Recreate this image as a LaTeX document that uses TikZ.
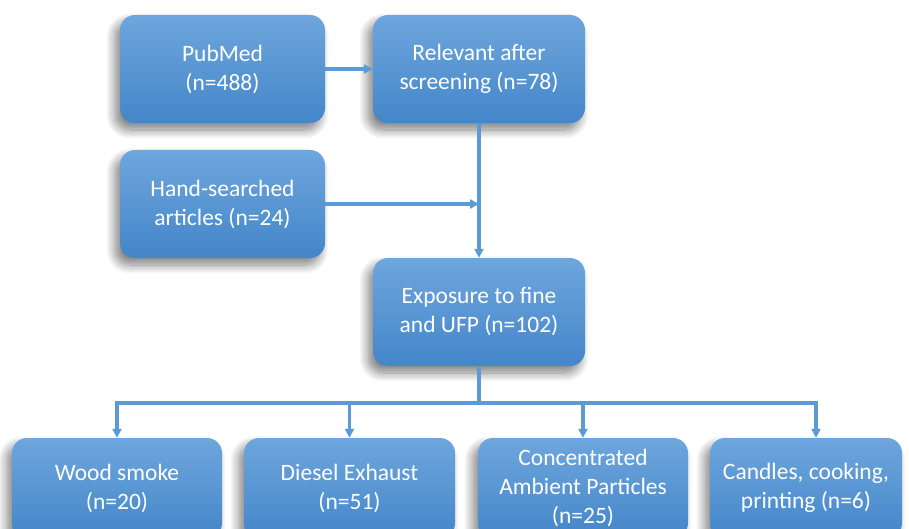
\documentclass[tikz,border=0pt]{standalone}
\usepackage{fontspec}
\setmainfont{Carlito}
\usepackage{xcolor}
\usepackage{tikz}
\usetikzlibrary{
  positioning,
  arrows.meta,
  calc,
  shadows.blur
}
\definecolor{boxtop}{RGB}{110,166,221}
\definecolor{boxbot}{RGB}{68,134,201}
\definecolor{linecol}{RGB}{91,155,213}

\begin{document}
\begin{tikzpicture}[
    x=1pt, y=-1pt,
    >={Triangle[length=9pt,width=9pt]},
    every node/.style={font=\fontsize{23.5}{29}\selectfont, text=white},
    flowbox/.style={rectangle, rounded corners=15pt, top color=boxtop, bottom color=boxbot,
        draw=none, align=center, inner sep=0pt,
        blur shadow={shadow xshift=-5pt, shadow yshift=-7pt, shadow blur steps=12, shadow blur radius=9pt, shadow opacity=50}},
    link/.style={draw=linecol, line width=3.2pt}
]
\useasboundingbox (0,0) rectangle (909,529);

% ========== 上部方框 ==========
\node[flowbox, minimum width=205pt, minimum height=108pt] (pub) at (222.5,69) {PubMed\\(n=488)};
\node[flowbox, minimum width=212pt, minimum height=108pt] (rel) at (479,69) {Relevant after\\screening (n=78)};
\node[flowbox, minimum width=205pt, minimum height=108pt] (hand) at (222.5,204) {Hand-searched\\articles (n=24)};
\node[flowbox, minimum width=212pt, minimum height=108pt] (expo) at (479,312) {Exposure to fine\\and UFP (n=102)};

% ========== 底部方框 ==========
\node[flowbox, minimum width=210pt, minimum height=100pt] (wood) at (117,488) {Wood smoke\\(n=20)};
\node[flowbox, minimum width=211pt, minimum height=100pt] (diesel) at (349.5,488) {Diesel Exhaust\\(n=51)};
\node[flowbox, minimum width=210pt, minimum height=100pt] (conc) at (583,488) {Concentrated\\Ambient Particles\\(n=25)};
\node[flowbox, minimum width=192pt, minimum height=100pt] (cand) at (806,488) {Candles, cooking,\\printing (n=6)};

% ========== 连线 ==========
\draw[link, ->] (pub) -- (rel);
\draw[link, ->] (rel) -- (expo);
\draw[link, ->] (hand.east) -- (hand.east -| rel.south);

\coordinate (fork) at (479,403);
\draw[link] (expo.south) -- (fork);
\draw[link, ->] (fork) -| (wood.north);
\draw[link, ->] (fork) -| (diesel.north);
\draw[link, ->] (fork) -| (conc.north);
\draw[link, ->] (fork) -| ([xshift=10pt]cand.north);

\end{tikzpicture}
\end{document}
